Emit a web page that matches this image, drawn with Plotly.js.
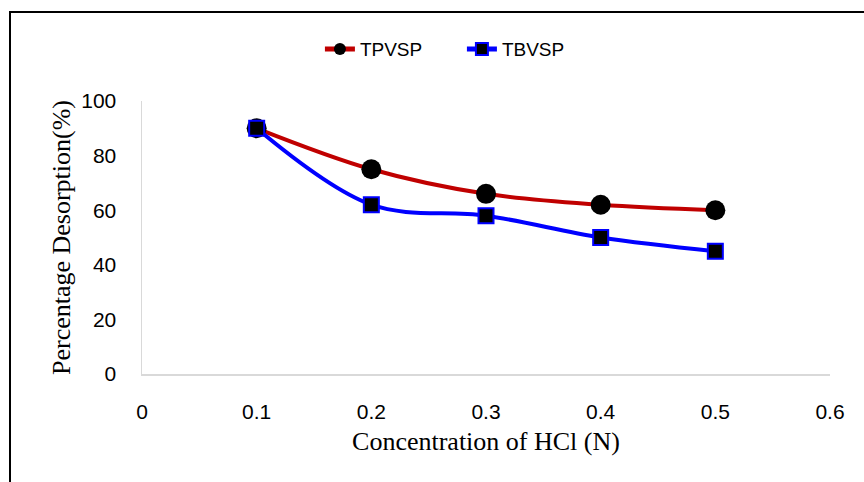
<!DOCTYPE html>
<html>
<head>
<meta charset="utf-8">
<script src="https://cdn.plot.ly/plotly-3.0.1.min.js"></script>
<style>
  html, body { margin: 0; padding: 0; background: #fff; overflow: hidden; }
  #chart { width: 864px; height: 482px; }
  #frame {
    position: absolute; left: 9px; top: 11px; width: 900px; height: 520px;
    border-left: 2px solid #000; border-top: 2px solid #000;
    pointer-events: none;
  }
</style>
</head>
<body>
<div id="chart"></div>
<div id="frame"></div>
<script>
// HCl concentration (N) and desorption percentages
const concentration = [0.1, 0.2, 0.3, 0.4, 0.5];
const tpvsp = [90, 75, 66, 62, 60];
const tbvsp = [90, 62, 58, 50, 45];

const xTicks = [0, 0.1, 0.2, 0.3, 0.4, 0.5, 0.6];
const xTickText = ['0', '0.1', '0.2', '0.3', '0.4', '0.5', '0.6'];
const yTicks = [0, 20, 40, 60, 80, 100];

const tickFont = { family: 'Liberation Sans Narrow, Arial Narrow, sans-serif', size: 21, color: '#000' };
const titleFont = { family: 'Liberation Serif, Times New Roman, serif', size: 26, color: '#000' };

const traces = [
  {
    x: concentration, y: tpvsp, name: 'TPVSP', type: 'scatter', mode: 'lines+markers',
    line: { color: '#C00000', width: 4, shape: 'spline', smoothing: 1 },
    marker: { symbol: 'circle', size: 20, color: '#000', line: { width: 0 } }
  },
  {
    x: concentration, y: tbvsp, name: 'TBVSP', type: 'scatter', mode: 'lines+markers',
    line: { color: '#0000FF', width: 4, shape: 'spline', smoothing: 1 },
    marker: { symbol: 'square', size: 15, color: '#000', line: { color: '#0000FF', width: 2 } }
  }
];

const layout = {
  width: 864, height: 482,
  margin: { l: 142, r: 34, t: 101, b: 108 },
  paper_bgcolor: '#fff', plot_bgcolor: '#fff',
  showlegend: true,
  legend: {
    orientation: 'h', x: 0.465, xanchor: 'center', y: 1.19, yanchor: 'middle',
    font: { family: 'Liberation Sans Narrow, Arial Narrow, sans-serif', size: 19, color: '#000' },
    itemsizing: 'constant', traceorder: 'normal',
    entrywidth: 97, entrywidthmode: 'pixels'
  },
  xaxis: {
    range: [0, 0.6], tickvals: xTicks, ticktext: xTickText,
    showgrid: false, zeroline: false,
    showline: true, linecolor: '#d9d9d9', linewidth: 1.5,
    ticks: '', ticklabelstandoff: 18, tickfont: tickFont,
    title: { text: 'Concentration of HCl (N)', font: titleFont, standoff: 10 }
  },
  yaxis: {
    range: [0, 100], tickvals: yTicks,
    showgrid: false, zeroline: false,
    showline: true, linecolor: '#d9d9d9', linewidth: 1.5,
    ticks: '', ticklabelstandoff: 20, tickfont: tickFont,
    title: { text: 'Percentage Desorption(%)', font: titleFont, standoff: 3 }
  }
};

Plotly.newPlot('chart', traces, layout, { displayModeBar: false, staticPlot: true });
</script>
</body>
</html>
